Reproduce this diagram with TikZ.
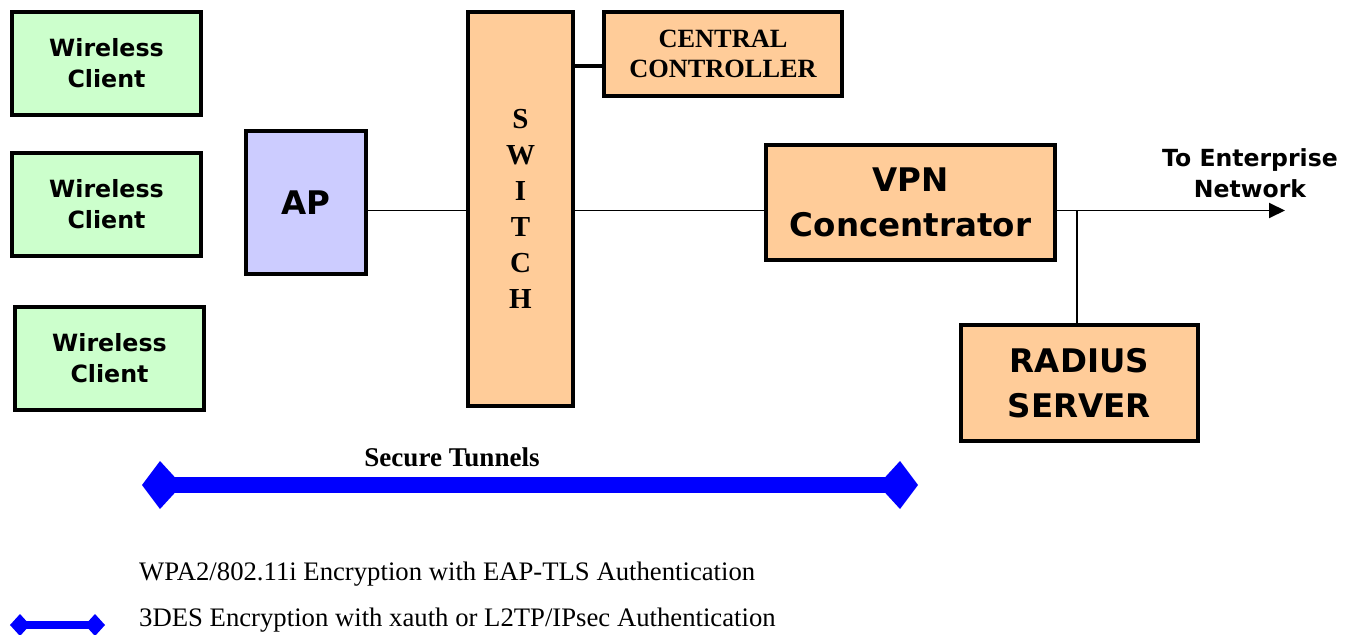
\documentclass[tikz,border=0pt]{standalone}
\usepackage{fontspec}
\setmainfont{Liberation Serif}
\newfontfamily\boxfont{DejaVu Sans}
\usetikzlibrary{arrows.meta}
\definecolor{clientgreen}{RGB}{204,255,204}
\definecolor{aplilac}{RGB}{204,204,255}
\definecolor{boxorange}{RGB}{255,204,153}

\begin{document}
\begin{tikzpicture}[
  every node/.style = {align=center},
  box/.style = {shape=rectangle, draw, line width=2.3pt},
  client/.style = {box, fill=clientgreen, minimum width=3.78cm, minimum height=2.06cm,
    font=\boxfont\bfseries\fontsize{13.5}{17.6}\selectfont},
  bigbox/.style = {box, font=\boxfont\bfseries\fontsize{18.5}{25.5}\selectfont},
  serifbox/.style = {box, fill=boxorange, font=\bfseries\fontsize{15}{17}\selectfont},
  link/.style = {line width=1.1pt},
  tunnel/.style = {blue, line width=0.32cm,
    {Kite[length=0.8cm,width=0.96cm,inset=0.44cm]}-{Kite[length=0.8cm,width=0.96cm,inset=0.44cm]}},
  legendtext/.style = {anchor=west, font=\fontsize{15.2}{17}\selectfont}]

  \useasboundingbox (0,0) rectangle (27.12,-12.70);

  \node[client] (wc1) at (2.13,-1.27) {Wireless\\Client};
  \node[client] (wc2) at (2.13,-4.09) {Wireless\\Client};
  \node[client] (wc3) at (2.19,-7.17) {Wireless\\Client};

  \node[bigbox, fill=aplilac, minimum width=2.40cm, minimum height=2.86cm] (ap) at (6.12,-4.05) {AP};
  \node[serifbox, minimum width=2.10cm, minimum height=7.88cm,
    font=\bfseries\fontsize{16.5}{20.4}\selectfont] (switch) at (10.41,-4.18) {S\\W\\I\\T\\C\\H};
  \node[serifbox, minimum width=4.76cm, minimum height=1.68cm] (ctrl) at (14.46,-1.08) {CENTRAL\\CONTROLLER};
  \node[bigbox, fill=boxorange, minimum width=5.78cm, minimum height=2.30cm] (vpn) at (18.21,-4.05) {VPN\\Concentrator};
  \node[bigbox, fill=boxorange, minimum width=4.74cm, minimum height=2.32cm] (radius) at (21.59,-7.66) {RADIUS\\SERVER};

  \coordinate (row) at (0,-4.21);
  \coordinate (tap) at (21.54,-4.21);
  \coordinate (net) at (25.70,-4.21);
  \coordinate (ctrlrow) at (0,-1.32);

  \draw[link] (ap.east |- row) -- (switch.west |- row);
  \draw[link] (switch.east |- row) -- (vpn.west |- row);
  \draw[line width=2.3pt] (switch.east |- ctrlrow) -- (ctrl.west |- ctrlrow);
  \draw[link, -{Triangle[length=0.32cm,width=0.3cm]}] (vpn.east |- row) -- (net);
  \draw[link] (tap) -- (tap |- radius.north);

  \node[font=\boxfont\bfseries\fontsize{13.4}{17.6}\selectfont] (netlabel) at (25.0,-3.46) {To Enterprise\\Network};

  % tunnel and legend
  \coordinate (tunnelL) at (2.84,-9.70);
  \coordinate (tunnelR) at (18.36,-9.70);
  \draw[tunnel] (tunnelL) -- (tunnelR);
  \node[font=\bfseries\fontsize{15.4}{17}\selectfont] (tunnellabel) at (9.04,-9.14) {Secure Tunnels};

  \node[legendtext] (wpa) at (2.66,-11.48) {WPA2/802.11i Encryption with EAP-TLS Authentication};
  \node[legendtext] (des) at (2.66,-12.40) {3DES Encryption with xauth or L2TP/IPsec Authentication};
  \coordinate (keyL) at (0.20,-12.50);
  \coordinate (keyR) at (2.10,-12.50);
  \draw[blue, line width=0.16cm,
    {Kite[length=0.4cm,width=0.44cm,inset=0.2cm]}-{Kite[length=0.4cm,width=0.44cm,inset=0.2cm]}] (keyL) -- (keyR);
\end{tikzpicture}
\end{document}
